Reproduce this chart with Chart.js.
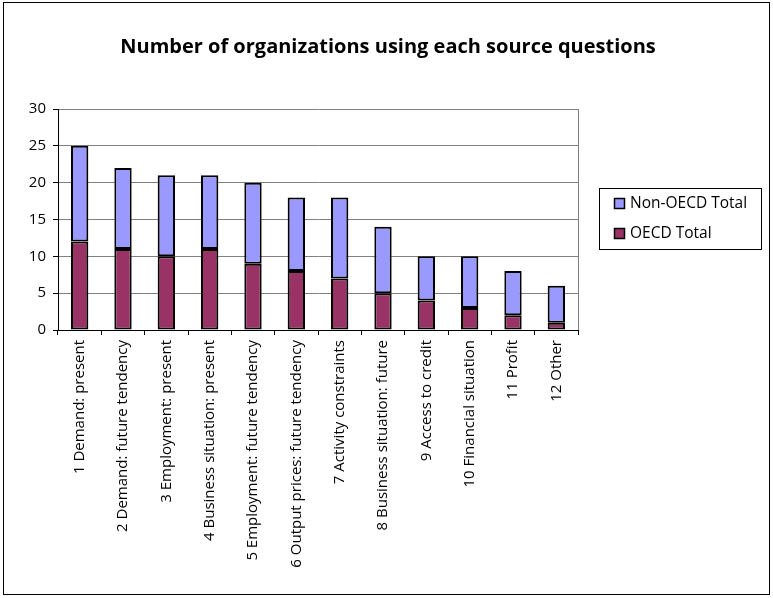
<!DOCTYPE html>
<html>
<head>
<meta charset="utf-8">
<script src="https://cdn.jsdelivr.net/npm/chart.js@4"></script>
<style>
html,body{margin:0;padding:0;background:#fff;}
canvas{display:block;}
</style>
</head>
<body>
<canvas id="c" width="773" height="598"></canvas>
<script>
const categories = [
  "1 Demand: present",
  "2 Demand: future tendency",
  "3 Employment: present",
  "4 Business situation: present",
  "5 Employment: future tendency",
  "6 Output prices: future tendency",
  "7 Activity constraints",
  "8 Business situation: future",
  "9 Access to credit",
  "10 Financial situation",
  "11 Profit",
  "12 Other"
];
const oecdTotal    = [12, 11, 10, 11, 9, 8, 7, 5, 4, 3, 2, 1];
const nonOecdTotal = [13, 11, 11, 10, 11, 10, 11, 9, 6, 7, 6, 5];
const yMin = 0, yMax = 30, yStep = 5;
const chartTitle = "Number of organizations using each source questions";
const seriesNames = ["OECD Total", "Non-OECD Total"];
const seriesColors = ["#993366", "#9999FF"];

const FONT = "'Open Sans', sans-serif";

const decorPlugin = {
  id: 'decor',
  beforeDraw(chart) {
    const ctx = chart.ctx;
    ctx.save();
    ctx.fillStyle = '#fff';
    ctx.fillRect(0, 0, chart.width, chart.height);
    ctx.restore();
  },
  afterDraw(chart) {
    const ctx = chart.ctx;
    const a = chart.chartArea;
    ctx.save();
    // outer border
    ctx.strokeStyle = '#000';
    ctx.lineWidth = 1;
    ctx.strokeRect(3.5, 2.5, 766, 592);
    // title
    ctx.fillStyle = '#000';
    ctx.font = "bold 20px " + FONT;
    ctx.textAlign = 'center';
    ctx.textBaseline = 'middle';
    ctx.fillText(chartTitle, 388, 47);
    // plot area right border
    ctx.strokeStyle = '#808080';
    ctx.beginPath();
    ctx.moveTo(Math.round(a.right) + 0.5, a.top);
    ctx.lineTo(Math.round(a.right) + 0.5, a.bottom);
    ctx.stroke();
    // legend
    ctx.strokeStyle = '#000';
    ctx.strokeRect(599.5, 188.5, 162, 61);
    ctx.font = "15.5px " + FONT;
    ctx.textBaseline = 'middle';
    ctx.textAlign = 'left';
    const items = [[seriesNames[1], seriesColors[1], 204], [seriesNames[0], seriesColors[0], 234]];
    items.forEach(([name, col, y]) => {
      ctx.fillStyle = col;
      ctx.fillRect(614.5, y - 5.5, 10, 10);
      ctx.strokeStyle = '#000';
      ctx.lineWidth = 1.5;
      ctx.strokeRect(614.5, y - 5.5, 10, 10);
      ctx.fillStyle = '#000';
      ctx.fillText(name, 630, y);
    });
    ctx.restore();
  }
};

new Chart(document.getElementById('c'), {
  type: 'bar',
  data: {
    labels: categories,
    datasets: [
      { label: seriesNames[0], data: oecdTotal, backgroundColor: seriesColors[0], borderColor: '#000', borderWidth: 2, borderSkipped: false, barPercentage: 0.4, categoryPercentage: 1.0 },
      { label: seriesNames[1], data: nonOecdTotal, backgroundColor: seriesColors[1], borderColor: '#000', borderWidth: 2, borderSkipped: false, barPercentage: 0.4, categoryPercentage: 1.0 }
    ]
  },
  options: {
    responsive: false,
    animation: false,
    devicePixelRatio: 1,
    layout: { padding: { left: 0, right: 195, top: 109, bottom: 0 } },
    plugins: {
      legend: { display: false },
      tooltip: { enabled: false },
      title: { display: false }
    },
    scales: {
      x: {
        stacked: true,
        grid: { offset: true, drawOnChartArea: false, drawTicks: true, tickLength: 5, color: '#000' },
        border: { color: '#000', width: 1 },
        ticks: { color: '#000', font: { family: FONT, size: 15 }, maxRotation: 90, minRotation: 90, autoSkip: false, padding: 5 },
        afterFit(s) { s.height = 268; }
      },
      y: {
        stacked: true,
        min: yMin, max: yMax,
        ticks: { stepSize: yStep, color: '#000', font: { family: FONT, size: 15 }, padding: 7 },
        grid: { color: '#808080', tickLength: 5, tickColor: '#000' },
        border: { color: '#000', width: 1 },
        afterFit(s) { s.width = 58; }
      }
    }
  },
  plugins: [decorPlugin]
});
</script>
</body>
</html>
